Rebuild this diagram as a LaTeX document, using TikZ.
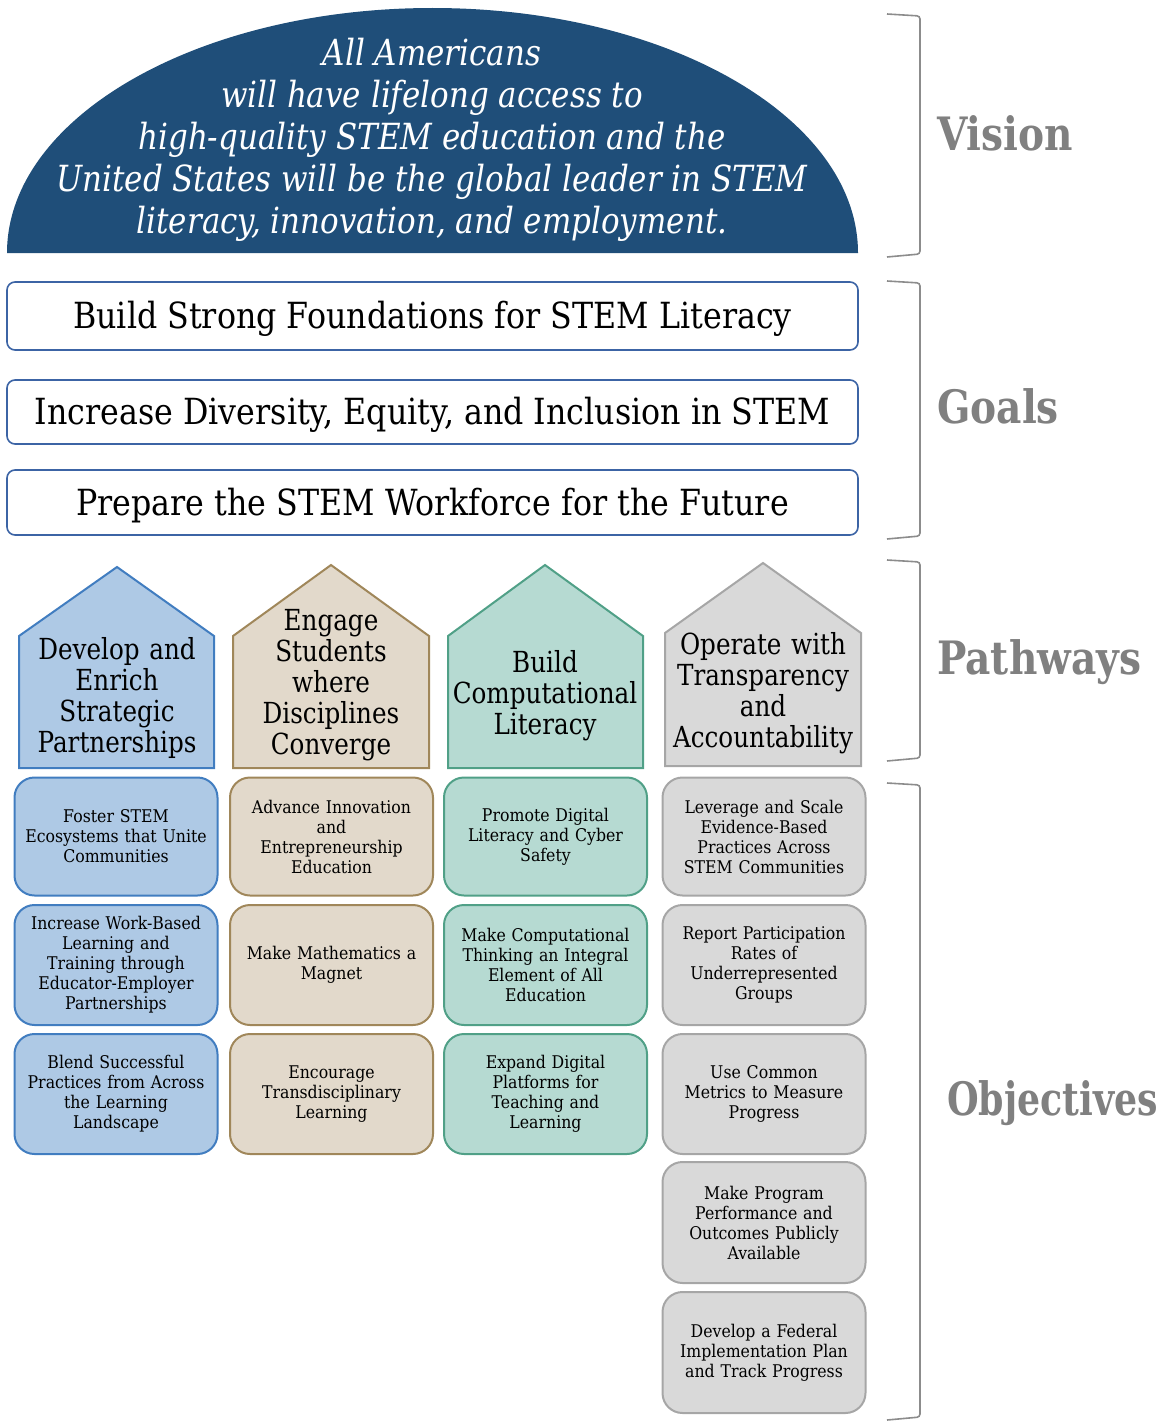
\documentclass[tikz,border=0pt]{standalone}
\usepackage{fontspec}
\setmainfont{DejaVu Serif}[FakeStretch=0.85]
\newfontfamily\visfont{DejaVu Serif}[FakeStretch=0.86]
\newfontfamily\goalfont{DejaVu Serif}[FakeStretch=0.88]
\newfontfamily\objfont{DejaVu Serif}[FakeStretch=0.90]
\newfontfamily\labnarrow{DejaVu Serif}[FakeStretch=0.79]
\definecolor{domeblue}{RGB}{31,78,121}
\definecolor{goalline}{RGB}{60,100,165}
\definecolor{labgray}{RGB}{128,128,128}
\definecolor{brgray}{RGB}{140,140,140}
\definecolor{bluefill}{RGB}{174,201,229}
\definecolor{blueline}{RGB}{65,125,192}
\definecolor{tanfill}{RGB}{226,217,203}
\definecolor{tanline}{RGB}{160,135,90}
\definecolor{tealfill}{RGB}{182,218,210}
\definecolor{tealline}{RGB}{80,160,135}
\definecolor{grayfill}{RGB}{217,217,217}
\definecolor{grayline}{RGB}{166,166,166}
\newcommand{\dn}[1]{\raisebox{-3pt}[\height][\depth]{#1}}
\tikzset{
  goalbox/.style={draw=goalline, line width=1.6pt, fill=white, rounded corners=8pt,
    minimum width=851pt, inner sep=0pt, align=center, font=\goalfont\fontsize{36}{40}\selectfont},
  objbox/.style={line width=2pt, rounded corners=20pt, minimum width=203pt, inner sep=0pt,
    text width=196pt, align=center, font=\objfont\fontsize{17.5}{20}\selectfont},
  pathtext/.style={align=center, text width=190pt, inner sep=0pt, font=\fontsize{29}{31}\selectfont},
  bracket/.style={draw=brgray, line width=1.6pt, rounded corners=3pt},
  sidelabel/.style={anchor=west, text=labgray, inner sep=0pt, font=\fontsize{46}{50}\selectfont\bfseries},
  bluec/.style={draw=blueline, fill=bluefill},
  tanc/.style={draw=tanline, fill=tanfill},
  tealc/.style={draw=tealline, fill=tealfill},
  grayc/.style={draw=grayline, fill=grayfill}
}
\begin{document}
\begin{tikzpicture}[x=1pt, y=-1pt]
\useasboundingbox (0,0) rectangle (1170,1421);
% Vision dome
\fill[domeblue] (7,253) arc[start angle=180, end angle=360, x radius=425.5, y radius=245] -- cycle;
\node[text=white, align=center, inner sep=0pt, font=\visfont\itshape\fontsize{36}{42}\selectfont] (vision) at (432,140)
  {All Americans\\will have lifelong access to\\high-quality STEM education and the\\United States will be the global leader in STEM\\literacy, innovation, and employment.};
% Goals
\node[goalbox, minimum height=68pt] (goal1) at (432.5,316) {\dn{Build Strong Foundations for STEM Literacy}};
\node[goalbox, minimum height=64pt] (goal2) at (432.5,412) {\dn{Increase Diversity, Equity, and Inclusion in STEM}};
\node[goalbox, minimum height=65pt] (goal3) at (432.5,502.5) {\dn{Prepare the STEM Workforce for the Future}};
% Pathways
\draw[bluec, line width=2pt] (19,768) -- (19,636) -- (117,567) -- (214,636) -- (214,768) -- cycle;
\draw[tanc, line width=2pt] (233,768) -- (233,636) -- (331,565) -- (429,636) -- (429,768) -- cycle;
\draw[tealc, line width=2pt] (448,768) -- (448,636) -- (545,565) -- (643,636) -- (643,768) -- cycle;
\draw[grayc, line width=2pt] (665,766) -- (665,633) -- (763,563) -- (861,633) -- (861,766) -- cycle;
\node[pathtext] (path1) at (117,698) {Develop and\\Enrich\\Strategic\\Partnerships};
\node[pathtext] (path2) at (331,685) {Engage\\Students\\where\\Disciplines\\Converge};
\node[pathtext] (path3) at (545,696) {Build\\Computational\\Literacy};
\node[pathtext] (path4) at (763,693) {Operate with\\Transparency\\and\\Accountability};
% Objectives column 1
\node[objbox, bluec, minimum height=118pt] (o11) at (116,836.5) {Foster STEM\\Ecosystems that Unite\\Communities};
\node[objbox, bluec, minimum height=120pt] (o12) at (116,965) {Increase Work-Based\\Learning and\\Training through\\Educator-Employer\\Partnerships};
\node[objbox, bluec, minimum height=120pt] (o13) at (116,1094) {Blend Successful\\Practices from Across\\the Learning\\Landscape};
% column 2
\node[objbox, tanc, minimum height=118pt] (o21) at (331.5,836.5) {Advance Innovation\\and\\Entrepreneurship\\Education};
\node[objbox, tanc, minimum height=120pt] (o22) at (331.5,965) {Make Mathematics a\\Magnet};
\node[objbox, tanc, minimum height=120pt] (o23) at (331.5,1094) {Encourage\\Transdisciplinary\\Learning};
% column 3
\node[objbox, tealc, minimum height=118pt] (o31) at (545.5,836.5) {Promote Digital\\Literacy and Cyber\\Safety};
\node[objbox, tealc, minimum height=120pt] (o32) at (545.5,965) {Make Computational\\Thinking an Integral\\Element of All\\Education};
\node[objbox, tealc, minimum height=120pt] (o33) at (545.5,1094) {Expand Digital\\Platforms for\\Teaching and\\Learning};
% column 4
\node[objbox, grayc, minimum height=118pt] (o41) at (764,836.5) {Leverage and Scale\\Evidence-Based\\Practices Across\\STEM Communities};
\node[objbox, grayc, minimum height=120pt] (o42) at (764,965) {Report Participation\\Rates of\\Underrepresented\\Groups};
\node[objbox, grayc, minimum height=120pt] (o43) at (764,1094) {Use Common\\Metrics to Measure\\Progress};
\node[objbox, grayc, minimum height=121pt] (o44) at (764,1222.5) {Make Program\\Performance and\\Outcomes Publicly\\Available};
\node[objbox, grayc, minimum height=121pt] (o45) at (764,1352.5) {Develop a Federal\\Implementation Plan\\and Track Progress};
% Brackets
\draw[bracket] (887,14) -- (920,16) -- (920,254) -- (887,257);
\draw[bracket] (887,281) -- (920,283) -- (920,536) -- (887,539);
\draw[bracket] (887,560) -- (920,562) -- (920,758) -- (887,761);
\draw[bracket] (887,783) -- (920,785) -- (920,1417) -- (887,1420);
% Side labels
\node[sidelabel] (lvision) at (937,133) {Vision};
\node[sidelabel] (lgoals) at (937,406) {Goals};
\node[sidelabel] (lpath) at (937,662) {Pathways};
\node[sidelabel, font=\labnarrow\fontsize{46}{50}\selectfont\bfseries] (lobj) at (947,1103) {Objectives};
\end{tikzpicture}
\end{document}
